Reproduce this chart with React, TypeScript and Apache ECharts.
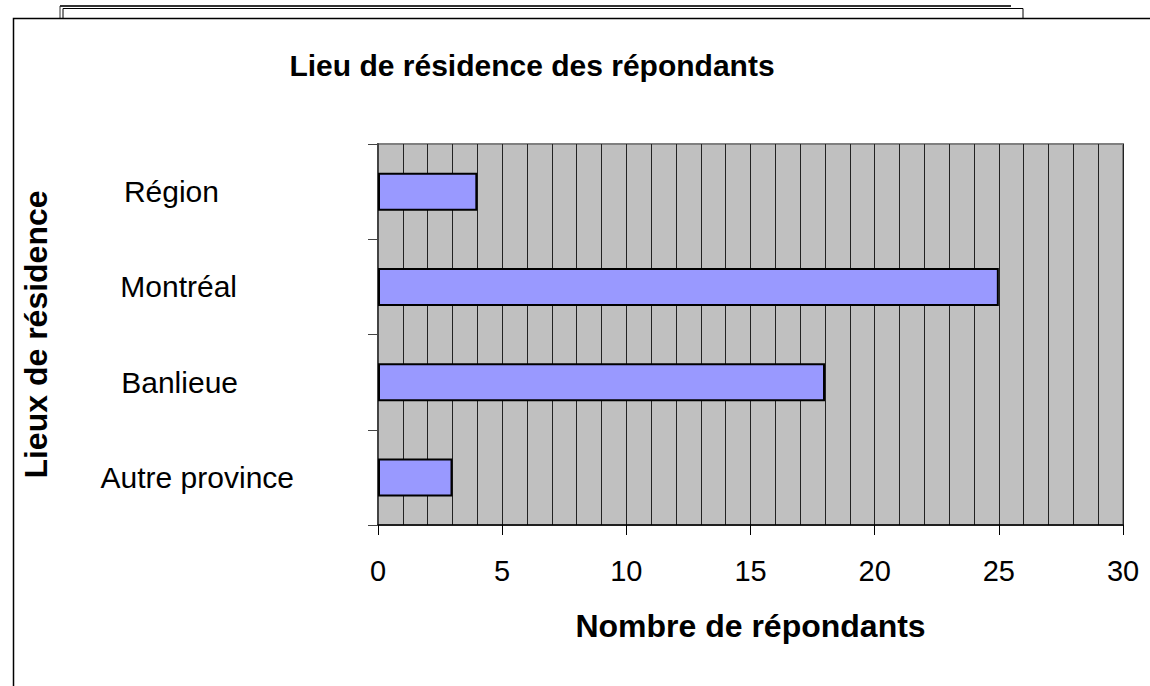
import React, { useEffect, useRef } from "react";
import * as echarts from "echarts";

const categories = ["Autre province", "Banlieue", "Montréal", "Région"];
const respondents = [3, 18, 25, 4];
const xMin = 0;
const xMax = 30;
const xStep = 5;

const titleText = "Lieu de résidence des répondants";
const xAxisTitle = "Nombre de répondants";
const yAxisTitle = "Lieux de résidence";

// style: extra right padding of each category label
const labelPadStyle: Record<string, number> = {
  "Autre province": 0,
  Banlieue: 56,
  "Montréal": 57,
  "Région": 75,
};

const FONT = "'Liberation Sans', Arial, Helvetica, sans-serif";

export default function App() {
  const ref = useRef<HTMLDivElement>(null);
  useEffect(() => {
    if (!ref.current) return;
    const chart = echarts.init(ref.current, undefined, { renderer: "svg" });
    chart.setOption({
      animation: false,
      backgroundColor: "#ffffff",
      textStyle: { fontFamily: FONT },
      grid: {
        left: 378,
        top: 144,
        right: 27,
        bottom: 161,
        show: true,
        backgroundColor: "#c0c0c0",
        borderColor: "#808080",
        borderWidth: 2,
      },
      graphic: [
        { type: "line", shape: { x1: 60, y1: 6, x2: 1011, y2: 6 }, style: { stroke: "#333", lineWidth: 2 } },
        { type: "line", shape: { x1: 60, y1: 6, x2: 60, y2: 18 }, style: { stroke: "#333", lineWidth: 1 } },
        {
          type: "polyline",
          shape: { points: [[63, 18], [63, 8.5], [1023, 8.5], [1023, 18]] },
          style: { stroke: "#000", lineWidth: 1, fill: null },
        },
        {
          type: "polyline",
          shape: { points: [[13.5, 686], [13.5, 18.5], [1150, 18.5]] },
          style: { stroke: "#000", lineWidth: 1.5, fill: null },
        },
        {
          type: "text",
          x: 532,
          y: 50,
          style: {
            text: titleText,
            align: "center",
            verticalAlign: "top",
            fontSize: 30,
            fontWeight: "bold",
            fontFamily: FONT,
            fill: "#000",
          },
        },
      ],
      xAxis: {
        type: "value",
        min: xMin,
        max: xMax,
        interval: xStep,
        name: xAxisTitle,
        nameLocation: "middle",
        nameGap: 85,
        nameTextStyle: { fontSize: 32, fontWeight: "bold", color: "#000", fontFamily: FONT },
        axisLine: { show: true, lineStyle: { color: "#000", width: 1.5 } },
        axisTick: { show: true, length: 10, lineStyle: { color: "#000", width: 1 } },
        axisLabel: { fontSize: 29, color: "#000", margin: 31, fontFamily: FONT },
        splitLine: { show: true, lineStyle: { color: "#222", width: 1 } },
        minorTick: { show: false, splitNumber: 5 },
        minorSplitLine: { show: true, lineStyle: { color: "#222", width: 1 } },
      },
      yAxis: {
        type: "category",
        data: categories.map((c) => ({
          value: c,
          textStyle: { padding: [0, labelPadStyle[c] || 0, 0, 0] },
        })),
        name: yAxisTitle,
        nameLocation: "middle",
        nameGap: 326,
        nameTextStyle: { fontSize: 32, fontWeight: "bold", color: "#000", fontFamily: FONT },
        axisLine: { show: true, lineStyle: { color: "#444", width: 2 } },
        axisTick: { show: true, length: 10, alignWithLabel: false, lineStyle: { color: "#444", width: 1 } },
        axisLabel: { fontSize: 30, color: "#000", margin: 84, align: "right", fontFamily: FONT },
        splitLine: { show: false },
      },
      series: [
        {
          type: "bar",
          data: respondents,
          barWidth: 38,
          itemStyle: { color: "#9999ff", borderColor: "#000", borderWidth: 2 },
        },
      ],
    });
    return () => chart.dispose();
  }, []);
  return (
    <div
      ref={ref}
      style={{ position: "fixed", left: 0, top: 0, width: 1150, height: 686 }}
    />
  );
}
